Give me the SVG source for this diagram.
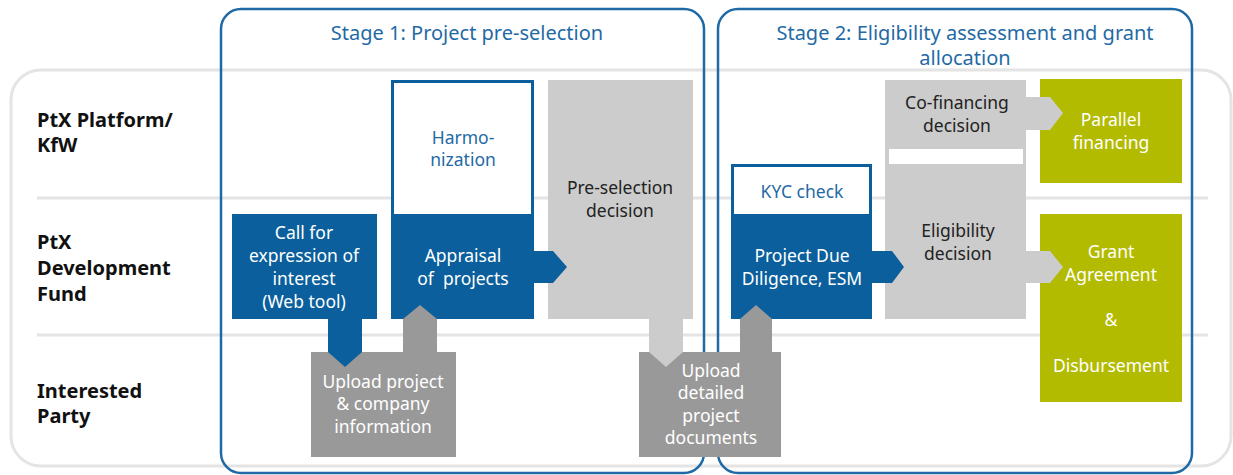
<svg xmlns="http://www.w3.org/2000/svg" width="1233" height="475" viewBox="0 0 1233 475">
<style>
text{font-family:"Noto Sans","Open Sans","DejaVu Sans",sans-serif;}
.lane{font-size:20px;font-weight:bold;fill:#111;}
.title{font-size:20px;fill:#1f6aa5;text-anchor:middle;}
.t{font-size:17.5px;text-anchor:middle;}
.w{fill:#fff;}
.b{fill:#1f6aa5;}
.k{fill:#222;}
.blue{fill:#0a5f9c;}
.dg{fill:#999999;}
.lg{fill:#cccccc;}
.gr{fill:#b2bb00;}
.stage{fill:none;stroke:#1f6aa5;stroke-width:2.5;}
.rowline{stroke:#e4e4e4;stroke-width:3;}
</style>
<rect width="1233" height="475" fill="#fff"/>
<g id="background">
<rect x="11" y="70" width="1220" height="396" rx="30" fill="none" stroke="#e4e4e4" stroke-width="3"/>
<line class="rowline" x1="37" y1="198" x2="1208" y2="198"/>
<line class="rowline" x1="37" y1="335" x2="1208" y2="335"/>
</g>
<g id="lanes">
<text class="lane" x="37" y="127">PtX Platform/</text>
<text class="lane" x="37" y="152">KfW</text>
<text class="lane" x="37" y="249">PtX</text>
<text class="lane" x="37" y="275">Development</text>
<text class="lane" x="37" y="301">Fund</text>
<text class="lane" x="37" y="398">Interested</text>
<text class="lane" x="37" y="423">Party</text>
</g>
<g id="stage1">
<rect class="stage" x="221" y="9" width="483" height="464" rx="20"/>
<text class="title" x="467" y="40">Stage 1: Project pre-selection</text>
</g>
<g id="stage2">
<rect class="stage" x="718" y="9" width="474" height="464" rx="20"/>
<text class="title" x="965" y="40">Stage 2: Eligibility assessment and grant</text>
<text class="title" x="965" y="65">allocation</text>
</g>
<g id="upload-project">
<rect class="dg" x="311" y="352" width="145" height="105"/>
<text class="t w" x="383" y="388">Upload project</text>
<text class="t w" x="383" y="410">&amp; company</text>
<text class="t w" x="383" y="433">information</text>
</g>
<g id="upload-detailed">
<rect class="dg" x="639" y="352" width="142" height="105"/>
<text class="t w" x="711" y="377">Upload</text>
<text class="t w" x="711" y="399">detailed</text>
<text class="t w" x="711" y="422">project</text>
<text class="t w" x="711" y="444">documents</text>
</g>
<g id="call">
<rect class="blue" x="232" y="214" width="145" height="105"/>
<text class="t w" x="304" y="239">Call for</text>
<text class="t w" x="304" y="262">expression of</text>
<text class="t w" x="304" y="285">interest</text>
<text class="t w" x="304" y="308">(Web tool)</text>
</g>
<g id="harmonization-appraisal">
<rect class="blue" x="391" y="80" width="143" height="239"/>
<rect class="w" x="394" y="83" width="137" height="131"/>
<text class="t b" x="463" y="144">Harmo-</text>
<text class="t b" x="463" y="166">nization</text>
<text class="t w" x="463" y="262">Appraisal</text>
<text class="t w" x="463" y="285" xml:space="preserve">of  projects</text>
</g>
<g id="preselection">
<rect class="lg" x="548" y="80" width="145" height="239"/>
<text class="t k" x="620" y="194">Pre-selection</text>
<text class="t k" x="620" y="217">decision</text>
</g>
<g id="kyc-duediligence">
<rect class="blue" x="731" y="164" width="141" height="155"/>
<rect class="w" x="734" y="167" width="135" height="47"/>
<text class="t b" x="802" y="198">KYC check</text>
<text class="t w" x="802" y="262">Project Due</text>
<text class="t w" x="802" y="285">Diligence, ESM</text>
</g>
<g id="cofinancing-eligibility">
<rect class="lg" x="885" y="80" width="141" height="239"/>
<rect class="w" x="889" y="149" width="134" height="15"/>
<text class="t k" x="957" y="109">Co-financing</text>
<text class="t k" x="957" y="132">decision</text>
<text class="t k" x="958" y="237">Eligibility</text>
<text class="t k" x="958" y="260">decision</text>
</g>
<g id="parallel">
<rect class="gr" x="1040" y="79" width="142" height="104"/>
<text class="t w" x="1111" y="126">Parallel</text>
<text class="t w" x="1111" y="149">financing</text>
</g>
<g id="grant">
<rect class="gr" x="1040" y="214" width="142" height="188"/>
<text class="t w" x="1111" y="258">Grant</text>
<text class="t w" x="1111" y="281">Agreement</text>
<text class="t w" x="1111" y="326">&amp;</text>
<text class="t w" x="1111" y="372">Disbursement</text>
</g>
<g id="connectors">
<polygon class="blue" points="328,318 362,318 362,352 345,367 328,352"/>
<polygon class="dg" points="403,353 403,319 420,305 437,319 437,353"/>
<polygon class="blue" points="533,251 553,251 567,267 553,283 533,283"/>
<polygon class="lg" points="649,318 683,318 683,352 666,367 649,352"/>
<polygon class="dg" points="740,353 740,319 756,305 772,319 772,353"/>
<polygon class="blue" points="871,251 892,251 904,267 892,283 871,283"/>
<polygon class="lg" points="1025,97 1050,97 1063,113 1050,130 1025,130"/>
<polygon class="lg" points="1025,251 1050,251 1063,267 1050,283 1025,283"/>
</g>
</svg>
